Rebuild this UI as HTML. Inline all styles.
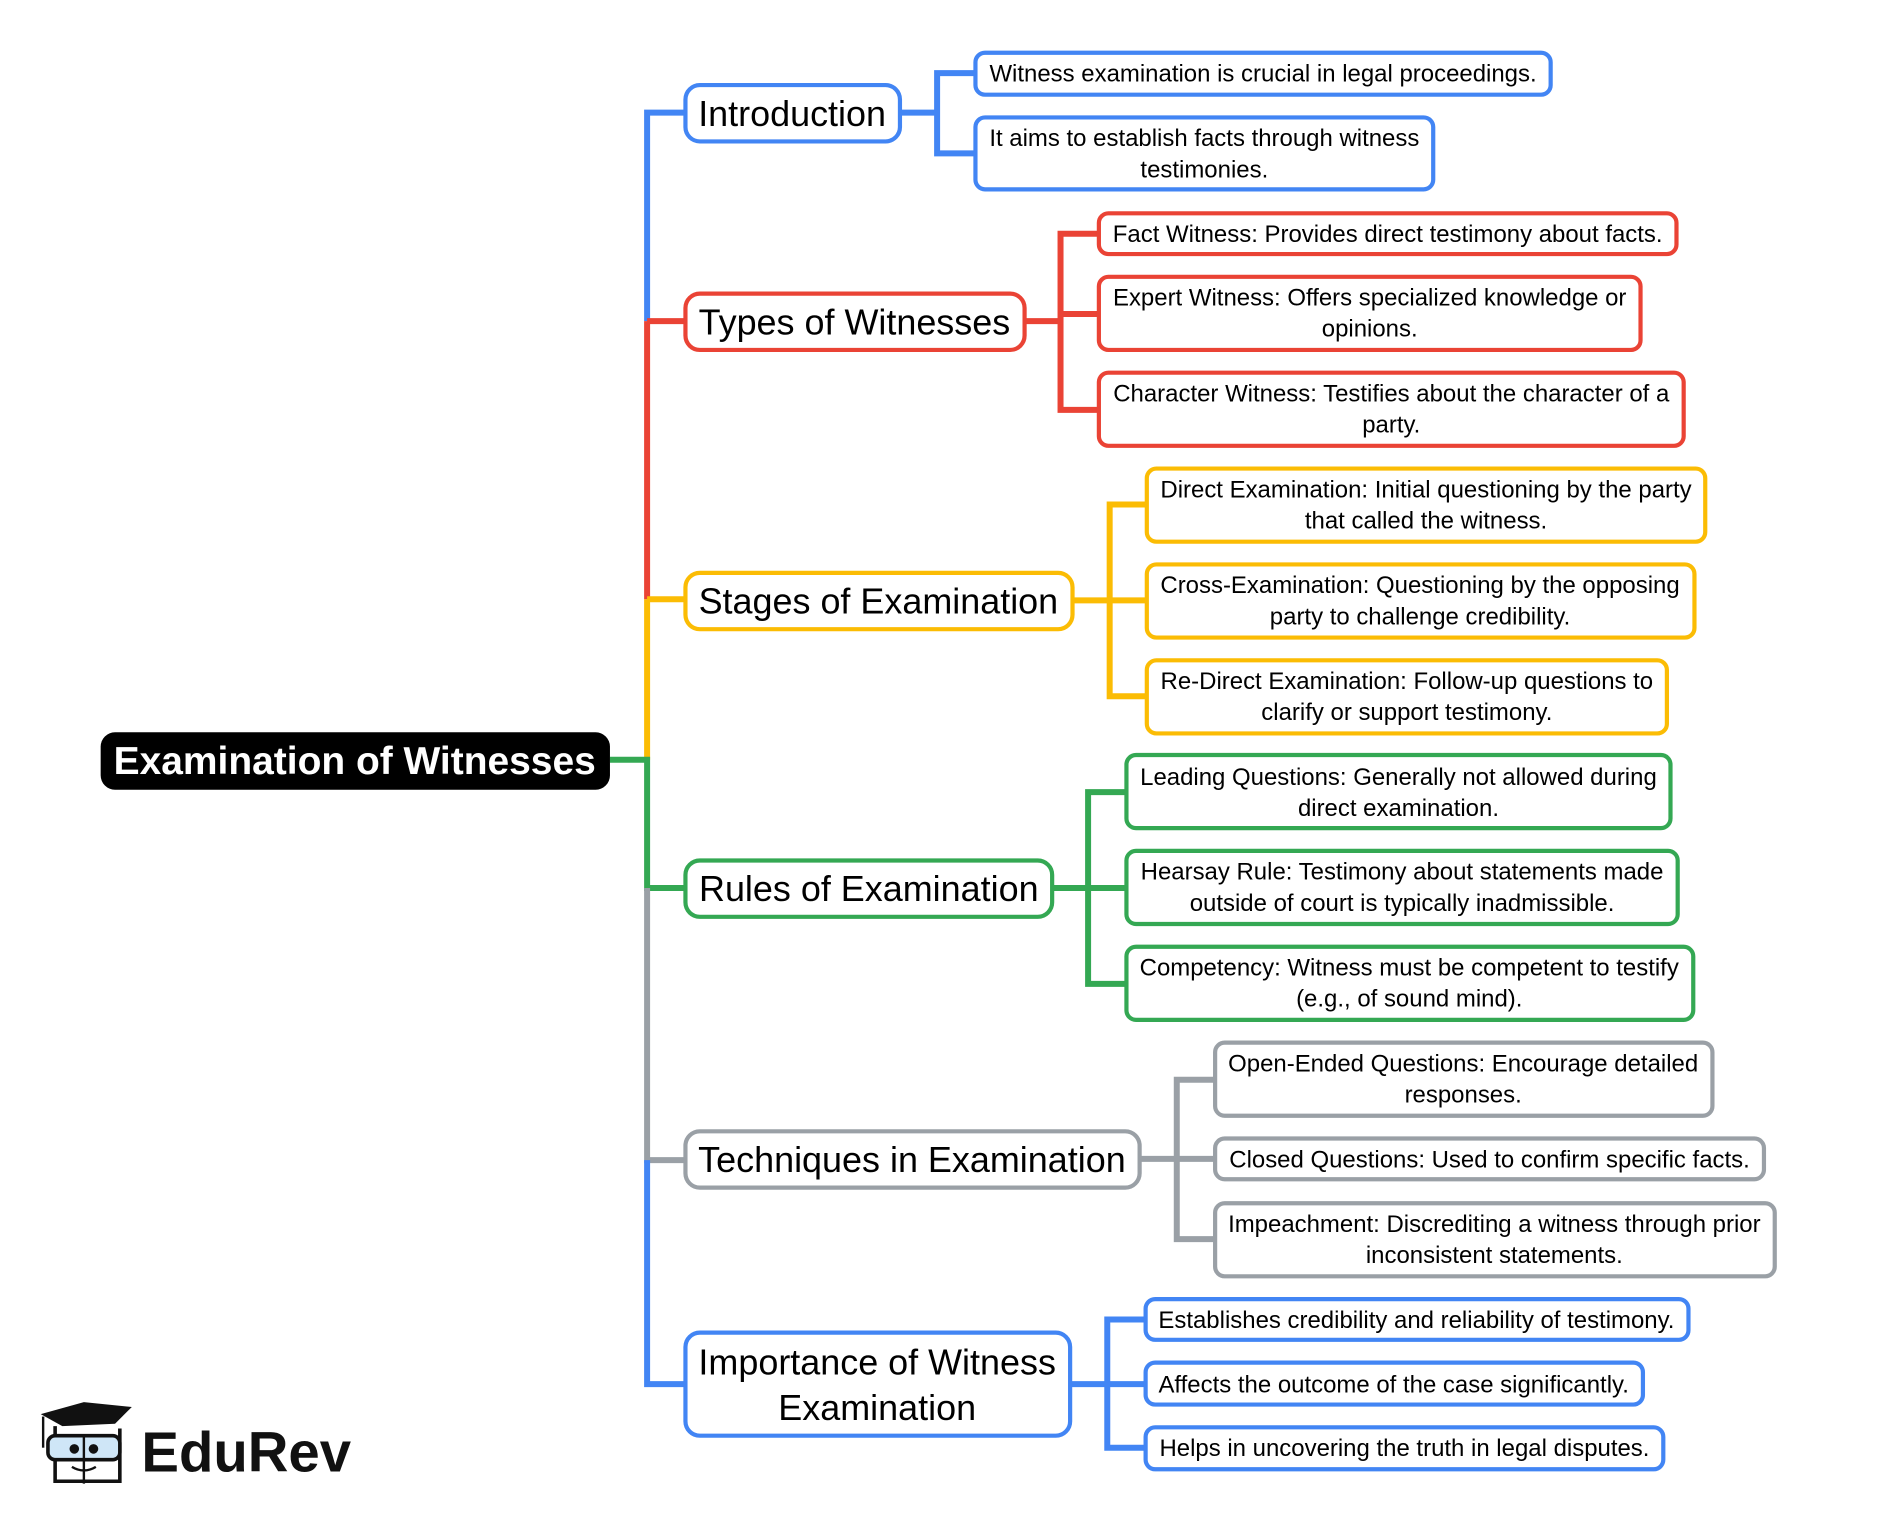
<!DOCTYPE html>
<html><head><meta charset="utf-8"><style>html,body{margin:0;padding:0;background:#fff}svg{display:block}</style></head>
<body>
<svg width="1879" height="1522" viewBox="0 0 1568 1270" preserveAspectRatio="none" xmlns="http://www.w3.org/2000/svg" font-family="Liberation Sans, Arial, sans-serif">
<g fill="none" stroke-width="5">
<path d="M572 94H540V268" stroke="#4285f4"/>
<path d="M540 268V500" stroke="#ea4335"/>
<path d="M540 268H572" stroke="#ea4335"/>
<path d="M540 500V634" stroke="#fbbc04"/>
<path d="M540 500H572" stroke="#fbbc04"/>
<path d="M509 634H540V741H572" stroke="#34a853"/>
<path d="M540 741V968H572" stroke="#9aa0a6"/>
<path d="M540 968V1155H572" stroke="#4285f4"/>
<path d="M751 94H782M814 61H782V128H814" stroke="#4285f4"/>
<path d="M855 268H885M917 195H885V342H917M885 262H917" stroke="#ea4335"/>
<path d="M895 501H926M957 421H926V581H957M926 501H957" stroke="#fbbc04"/>
<path d="M878 741H908M940 661H908V821H940M908 741H940" stroke="#34a853"/>
<path d="M951 967H982M1014 901H982V1034H1014M982 967H1014" stroke="#9aa0a6"/>
<path d="M893 1155H924M956 1101H924V1208H956M924 1155H956" stroke="#4285f4"/>
</g>
<rect x="84" y="611" width="425" height="48" rx="12" fill="#000"/>
<text x="296" y="646" font-size="32.5" font-weight="bold" fill="#fff" text-anchor="middle">Examination of Witnesses</text>
<g fill="#fff" stroke-width="3.5">
<rect x="572" y="71" width="179" height="47" rx="12" stroke="#4285f4"/>
<rect x="572" y="245" width="283" height="47" rx="12" stroke="#ea4335"/>
<rect x="572" y="478" width="323" height="47" rx="12" stroke="#fbbc04"/>
<rect x="572" y="718" width="306" height="47" rx="12" stroke="#34a853"/>
<rect x="572" y="944" width="379" height="47" rx="12" stroke="#9aa0a6"/>
<rect x="572" y="1112" width="321" height="86" rx="12" stroke="#4285f4"/>
<rect x="814" y="44" width="480" height="35" rx="8" stroke="#4285f4"/>
<rect x="814" y="98" width="382" height="60" rx="8" stroke="#4285f4"/>
<rect x="917" y="178" width="482" height="34" rx="8" stroke="#ea4335"/>
<rect x="917" y="231" width="452" height="61" rx="8" stroke="#ea4335"/>
<rect x="917" y="311" width="488" height="61" rx="8" stroke="#ea4335"/>
<rect x="957" y="391" width="466" height="61" rx="8" stroke="#fbbc04"/>
<rect x="957" y="471" width="457" height="61" rx="8" stroke="#fbbc04"/>
<rect x="957" y="551" width="434" height="61" rx="8" stroke="#fbbc04"/>
<rect x="940" y="630" width="454" height="61" rx="8" stroke="#34a853"/>
<rect x="940" y="710" width="460" height="61" rx="8" stroke="#34a853"/>
<rect x="940" y="790" width="473" height="61" rx="8" stroke="#34a853"/>
<rect x="1014" y="870" width="415" height="61" rx="8" stroke="#9aa0a6"/>
<rect x="1014" y="950" width="458" height="34" rx="8" stroke="#9aa0a6"/>
<rect x="1014" y="1004" width="467" height="61" rx="8" stroke="#9aa0a6"/>
<rect x="956" y="1084" width="453" height="34" rx="8" stroke="#4285f4"/>
<rect x="956" y="1137" width="415" height="35" rx="8" stroke="#4285f4"/>
<rect x="956" y="1191" width="432" height="35" rx="8" stroke="#4285f4"/>
</g>
<g font-size="30" fill="#000" text-anchor="middle">
<text x="661" y="105">Introduction</text>
<text x="713" y="279">Types of Witnesses</text>
<text x="733" y="512">Stages of Examination</text>
<text x="725" y="752">Rules of Examination</text>
<text x="761" y="978">Techniques in Examination</text>
<text x="732" y="1147">Importance of Witness</text>
<text x="732" y="1185">Examination</text>
</g>
<g font-size="20" fill="#000" text-anchor="middle">
<text x="1054" y="68">Witness examination is crucial in legal proceedings.</text>
<text x="1005" y="122">It aims to establish facts through witness</text>
<text x="1005" y="148">testimonies.</text>
<text x="1158" y="202">Fact Witness: Provides direct testimony about facts.</text>
<text x="1143" y="255">Expert Witness: Offers specialized knowledge or</text>
<text x="1143" y="281">opinions.</text>
<text x="1161" y="335">Character Witness: Testifies about the character of a</text>
<text x="1161" y="361">party.</text>
<text x="1190" y="415">Direct Examination: Initial questioning by the party</text>
<text x="1190" y="441">that called the witness.</text>
<text x="1185" y="495">Cross-Examination: Questioning by the opposing</text>
<text x="1185" y="521">party to challenge credibility.</text>
<text x="1174" y="575">Re-Direct Examination: Follow-up questions to</text>
<text x="1174" y="601">clarify or support testimony.</text>
<text x="1167" y="655">Leading Questions: Generally not allowed during</text>
<text x="1167" y="681">direct examination.</text>
<text x="1170" y="734">Hearsay Rule: Testimony about statements made</text>
<text x="1170" y="760">outside of court is typically inadmissible.</text>
<text x="1176" y="814">Competency: Witness must be competent to testify</text>
<text x="1176" y="840">(e.g., of sound mind).</text>
<text x="1221" y="894">Open-Ended Questions: Encourage detailed</text>
<text x="1221" y="920">responses.</text>
<text x="1243" y="974">Closed Questions: Used to confirm specific facts.</text>
<text x="1247" y="1028">Impeachment: Discrediting a witness through prior</text>
<text x="1247" y="1054">inconsistent statements.</text>
<text x="1182" y="1108">Establishes credibility and reliability of testimony.</text>
<text x="1163" y="1162">Affects the outcome of the case significantly.</text>
<text x="1172" y="1215">Helps in uncovering the truth in legal disputes.</text>
</g>
<g>
<polygon points="34,1180 70,1170 110,1174 96,1188 52,1190" fill="#111"/>
<path d="M36 1182V1208" stroke="#111" stroke-width="2"/>
<path d="M46 1190V1236H100V1192" fill="none" stroke="#111" stroke-width="3"/>
<rect x="40" y="1198" width="60" height="20" rx="6" fill="#cfe6f7" stroke="#111" stroke-width="3"/>
<circle cx="62" cy="1209" r="4" fill="#111"/><circle cx="78" cy="1209" r="4" fill="#111"/>
<path d="M70 1198V1238" stroke="#111" stroke-width="2"/>
<path d="M60 1224Q70 1230 80 1224" fill="none" stroke="#111" stroke-width="2"/>
<text x="118" y="1228" font-size="47" font-weight="bold" fill="#111">EduRev</text>
</g>
</svg>
</body></html>
